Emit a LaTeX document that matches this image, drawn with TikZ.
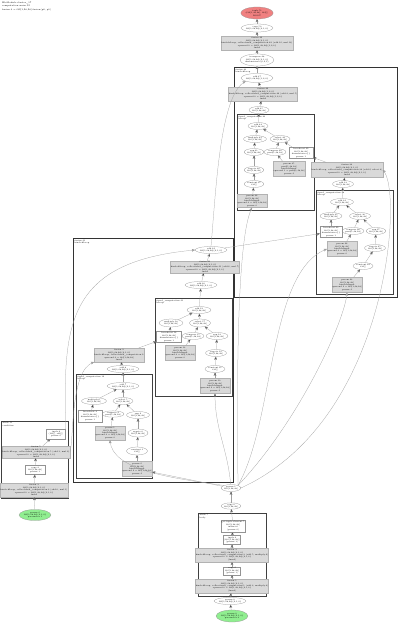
\documentclass[tikz,border=0pt]{standalone}
\usetikzlibrary{arrows,shapes.geometric}
\definecolor{rootred}{RGB}{240,128,128}
\definecolor{paramgreen}{RGB}{144,238,144}
\newcommand{\tinyfont}{\fontsize{2}{2.45}\selectfont}
\tikzset{
  op/.style={ellipse,draw=gray!85,line width=0.25pt,inner sep=0.1pt,align=center,font=\tinyfont},
  fused/.style={rectangle,draw=gray!60,fill=gray!30,line width=0.25pt,inner sep=0.3pt,align=center,font=\tinyfont},
  tup/.style={rectangle,draw=gray!85,fill=white,line width=0.25pt,inner sep=0.3pt,align=center,font=\tinyfont},
  rootop/.style={op,fill=rootred},
  paramop/.style={op,fill=paramgreen},
  cluster/.style={draw=black!75,line width=0.7pt},
  bigcluster/.style={draw=black!80,line width=1pt},
  clabel/.style={anchor=north west,inner sep=0.4pt,align=left,font=\tinyfont},
  flow/.style={draw=gray!75,line width=0.25pt}
}
\begin{document}
\begin{tikzpicture}[x=1pt,y=-1pt,>=stealth']
\useasboundingbox (0,0) rectangle (400,624);

% header text
\node[clabel,font=\fontsize{2.2}{3.2}\selectfont] (hdr) at (1.5,1.5) {HloModule cluster\_17\\computation main.52\\fusion.3 = f32[1,28,28] fusion(p0, p1)};

% clusters
\draw[bigcluster] (234,67) rectangle (397,297);
\node[clabel] (labA) at (235,68) {fusion.40\\kind=kLoop};
\draw[cluster] (237,114) rectangle (314,210);
\node[clabel] (labB) at (238,115) {fused\_computation.40\\kLoop};
\draw[cluster] (316,190) rectangle (393,294);
\node[clabel] (labC) at (317,191) {fused\_computation.38\\kLoop};
\draw[bigcluster] (73,238) rectangle (233,482);
\node[clabel] (labD) at (74,239) {fusion.21\\kind=kLoop};
\draw[cluster] (155,298) rectangle (232,396);
\node[clabel] (labE) at (156,299) {fused\_computation.21\\kLoop};
\draw[cluster] (76,374) rectangle (152,478);
\node[clabel] (labF) at (77,375) {fused\_computation.19\\kLoop};
\draw[cluster] (1,421) rectangle (68,498);
\node[clabel] (labG) at (2,422) {while.11\\condition};
\draw[cluster] (198,513) rectangle (266,596);
\node[clabel] (labH) at (199,514) {while.7\\body};

% main column
\node[rootop,minimum width=28pt,minimum height=12pt] (n1) at (257,13) {tuple.51\\(f32[1,28,28], f32[])\\ROOT};
\node[op,minimum width=28pt,minimum height=8pt] (n2) at (257,28) {copy.50\\f32[1,28,28]\{2,1,0\}};
\node[fused,minimum width=52pt,minimum height=14pt] (n3) at (257,43) {fusion.49\\f32[1,28,28]\{2,1,0\}\\kind=kLoop, calls=fused\_computation.49 (add.12, mul.13)\\operand 0 = f32[1,28,28]\{1,2,0\}\\fused};
\node[op,minimum width=33pt,minimum height=12pt] (n4) at (257,60) {transpose.48\\f32[1,28,28]\{2,1,0\}\\dimensions=\{0,2,1\}};

% cluster A
\node[op,minimum width=28pt,minimum height=9pt] (a1) at (257,78) {add.47\\f32[1,28,28]\{1,2,0\}};
\node[fused,minimum width=53pt,minimum height=14pt] (a2) at (263,94) {fusion.46\\f32[1,28,28]\{1,2,0\}\\kind=kLoop, calls=fused\_computation.46 (add.4, mul.5)\\operand 0 = f32[1,28,28]\{1,2,0\}\\fused};
\node[op,minimum width=20pt,minimum height=7pt] (a3) at (259,110) {add.45\\f32[1,28,28]};
\node[op,minimum width=20pt,minimum height=7pt] (b1) at (258,126) {add.44\\f32[1,28,28]};
\node[op,minimum width=23pt,minimum height=7pt] (b2) at (255,139) {multiply.43\\f32[1,28,28]};
\node[op,minimum width=20pt,minimum height=7pt] (b3) at (280,139) {select.42\\f32[1,28,28]};
\node[op,minimum width=18pt,minimum height=7pt] (b4) at (254,152) {exp.41\\f32[1,28,28]};
\node[op,minimum width=19pt,minimum height=7pt] (b5) at (275,152) {compare.40\\pred[1,28,28]};
\node[tup,minimum width=24pt,minimum height=11pt] (b6) at (301,153) {broadcast.39\\f32[1,28,28]\\dimensions=\{\}\\param 1};
\node[op,minimum width=18pt,minimum height=7pt] (b7) at (254,170) {negate.38\\f32[1,28,28]};
\node[op,minimum width=18pt,minimum height=7pt] (b8) at (254,184) {constant.37\\f32[]};
\node[fused,minimum width=29pt,minimum height=13pt] (b9) at (252,201) {param.36\\f32[1,28,28]\\kind=kInput\\operand 0 = f32[1,28,28]\\param 0};
\node[fused,minimum width=29pt,minimum height=15pt] (b10) at (289,169) {param.35\\pred[1,28,28]\\kind=kInput\\operand 1 = pred[1,28,28]\\param 2};
\node[fused,minimum width=62pt,minimum height=15pt] (a4) at (347,170) {fusion.34\\f32[1,28,28]\{2,1,0\}\\kind=kLoop, calls=fused\_computation.34 (add.2, select.3)\\operand 0 = f32[1,28,28]\{2,1,0\}\\fused};
\node[op,minimum width=21pt,minimum height=7pt] (a5) at (343,184) {add.33\\f32[1,28,28]};

% cluster C
\node[op,minimum width=23pt,minimum height=7pt] (c1) at (342,202) {add.32\\f32[1,28,28]};
\node[op,minimum width=22pt,minimum height=7pt] (c2) at (331,216) {multiply.31\\f32[1,28,28]};
\node[op,minimum width=21pt,minimum height=7pt] (c3) at (360,216) {select.30\\f32[1,28,28]};
\node[tup,minimum width=22pt,minimum height=11pt] (c4) at (331,232) {broadcast.29\\f32[1,28,28]\\dimensions=\{\}\\param 1};
\node[op,minimum width=20pt,minimum height=7pt] (c5) at (353,231) {compare.28\\pred[1,28,28]};
\node[op,minimum width=19pt,minimum height=7pt] (c6) at (376,231) {exp.27\\f32[1,28,28]};
\node[fused,minimum width=27pt,minimum height=15pt] (c7) at (342,249) {param.26\\f32[1,28,28]\\kind=kInput\\operand 0 = f32[1,28,28]\\param 0};
\node[op,minimum width=21pt,minimum height=7pt] (c8) at (375,248) {negate.25\\f32[1,28,28]};
\node[op,minimum width=20pt,minimum height=7pt] (c9) at (363,266) {constant.24\\f32[]};
\node[fused,minimum width=27pt,minimum height=15pt] (c10) at (347,285) {param.23\\f32[1,28,28]\\kind=kInput\\operand 2 = f32[1,28,28]\\param 2};

% cluster D
\node[op,minimum width=28pt,minimum height=7pt] (d1) at (211,250) {add.22\\f32[1,28,28]\{2,1,0\}};
\node[fused,minimum width=53pt,minimum height=12pt] (d2) at (205,267) {fusion.21\\f32[1,28,28]\{2,1,0\}\\kind=kLoop, calls=fused\_computation.21 (add.6, mul.7)\\operand 0 = f32[1,28,28]\{2,1,0\}\\fused};
\node[op,minimum width=28pt,minimum height=7pt] (d3) at (201,285) {add.20\\f32[1,28,28]\{2,1,0\}};
\node[op,minimum width=24pt,minimum height=7pt] (e1) at (199,310) {add.19\\f32[1,28,28]};
\node[op,minimum width=24pt,minimum height=8pt] (e2) at (171,323) {multiply.18\\f32[1,28,28]};
\node[op,minimum width=21pt,minimum height=8pt] (e3) at (200,323) {select.17\\f32[1,28,28]};
\node[tup,minimum width=25pt,minimum height=11pt] (e4) at (169,337) {broadcast.16\\f32[1,28,28]\\dimensions=\{\}\\param 1};
\node[op,minimum width=20pt,minimum height=7pt] (e5) at (193,336) {compare.15\\pred[1,28,28]};
\node[op,minimum width=22pt,minimum height=7pt] (e6) at (217,336) {exp.14\\f32[1,28,28]};
\node[fused,minimum width=27pt,minimum height=15pt] (e7) at (180,353) {param.13\\f32[1,28,28]\\kind=kInput\\operand 0 = f32[1,28,28]\\param 0};
\node[op,minimum width=21pt,minimum height=7pt] (e8) at (216,353) {negate.12\\f32[1,28,28]};
\node[op,minimum width=20pt,minimum height=7pt] (e9) at (215,369) {constant.11\\f32[]};
\node[fused,minimum width=28pt,minimum height=15pt] (e10) at (215,386) {param.10\\f32[1,28,28]\\kind=kInput\\operand 2 = f32[1,28,28]\\param 2};
\node[fused,minimum width=40pt,minimum height=14pt] (d4) at (119,355) {fusion.9\\f32[1,28,28]\{2,1,0\}\\kind=kLoop, calls=fused\_computation.9\\operand 0 = f32[1,28,28]\\fused};
\node[op,minimum width=27pt,minimum height=7pt] (d5) at (123,369) {add.8\\f32[1,28,28]\{2,1,0\}};

% cluster F
\node[op,minimum width=28pt,minimum height=7pt] (f1) at (123,386) {add.7\\f32[1,28,28]\{2,1,0\}};
\node[op,minimum width=25pt,minimum height=7pt] (f2) at (94,401) {multiply.6\\f32[1,28,28]};
\node[op,minimum width=20pt,minimum height=7pt] (f3) at (123,401) {select.5\\f32[1,28,28]};
\node[tup,minimum width=24pt,minimum height=12pt] (f4) at (90,416) {broadcast.4\\f32[1,28,28]\\dimensions=\{\}\\param 1};
\node[op,minimum width=20pt,minimum height=6pt] (f5) at (113,414) {compare.3\\pred[1,28,28]};
\node[op,minimum width=23pt,minimum height=7pt] (f6) at (138,415) {exp.2\\f32[1,28,28]};
\node[fused,minimum width=27pt,minimum height=14pt] (f7) at (110,433) {param.1\\f32[1,28,28]\\kind=kInput\\operand 0 = f32[1,28,28]\\param 0};
\node[op,minimum width=20pt,minimum height=8pt] (f8) at (138,433) {negate.0\\f32[1,28,28]};
\node[op,minimum width=21pt,minimum height=8pt] (f9) at (137,451) {constant.1\\f32[]};
\node[fused,minimum width=29pt,minimum height=15pt] (f10) at (137,469) {param.2\\f32[1,28,28]\\kind=kInput\\operand 2 = f32[1,28,28]\\param 2};

% cluster G
\node[tup,minimum width=19pt,minimum height=10pt] (g1) at (56,434) {tuple.6\\(f32[], s32[])\\param 0};
\node[fused,minimum width=64pt,minimum height=12pt] (g2) at (36,452) {fusion.5\\f32[1,28,28]\{2,1,0\}\\kind=kLoop, calls=fused\_computation.5 (add.1, mul.2)\\operand 0 = f32[1,28,28]\{2,1,0\}\\fused};
\node[tup,minimum width=20pt,minimum height=9pt] (g3) at (35,470) {copy.4\\f32[1,28,28]\\param 1};
\node[fused,minimum width=59pt,minimum height=14pt] (g4) at (34,490) {fusion.3\\f32[1,28,28]\{2,1,0\}\\kind=kLoop, calls=fused\_computation.3 (add.0, mul.1)\\operand 0 = f32[1,28,28]\{2,1,0\}\\fused};
\node[paramop,minimum width=26pt,minimum height=11pt] (g5) at (35,515) {param.2\\f32[1,28,28]\{2,1,0\}\\parameter 1};

% bottom column
\node[op,minimum width=16pt,minimum height=7pt] (m1) at (231,488) {param.1\\f32[1,28,28]};
\node[op,minimum width=18pt,minimum height=6pt] (m2) at (231,506) {copy.0\\f32[1,28,28]};
\node[tup,minimum width=23pt,minimum height=12pt] (h1) at (233,526) {get-tuple-element.5\\f32[1,28,28]\\index=0\\(param 0)};
\node[tup,minimum width=17pt,minimum height=9pt] (h2) at (232,540) {tuple.4\\(f32[1,28,28])\\(param 1)};
\node[fused,minimum width=61pt,minimum height=14pt] (h3) at (232,555) {fusion.3\\f32[1,28,28]\{2,1,0\}\\kind=kLoop, calls=fused\_computation.3 (add.5, multiply.6)\\operand 0 = f32[1,28,28]\{2,1,0\}\\(fused)};
\node[tup,minimum width=17pt,minimum height=8pt] (h4) at (232,571) {copy.2\\f32[1,28,28]\\(param 1)};
\node[fused,minimum width=61pt,minimum height=14pt] (h5) at (232,586) {fusion.1\\f32[1,28,28]\{2,1,0\}\\kind=kLoop, calls=fused\_computation.1 (add.3, multiply.4)\\operand 0 = f32[1,28,28]\{2,1,0\}\\(fused)};
\node[op,minimum width=24pt,minimum height=7pt] (m3) at (230,601) {param.0\\f32[1,28,28]\{2,1,0\}};
\node[paramop,minimum width=28pt,minimum height=12pt] (m4) at (232,616) {param.0\\f32[1,28,28]\{2,1,0\}\\parameter 0};

% straight edges
\path[flow,->] (n4) edge (n3) (n3) edge (n2) (n2) edge (n1)
  (a1) edge (n4) (a2) edge (a1) (a3) edge (a2) (b1) edge (a3)
  (b2) edge (b1) (b3) edge (b1) (b4) edge (b2) (b5) edge (b3) (b6) edge (b3)
  (b7) edge (b4) (b8) edge (b7) (b9) edge (b8) (b10) edge (b5)
  (a4) edge (b6) (a5) edge (a4) (c1) edge (a5)
  (c2) edge (c1) (c3) edge (c1) (c4) edge (c2) (c5) edge (c3) (c6) edge (c3)
  (c7) edge (c5) (c8) edge (c6) (c9) edge (c8) (c10) edge (c9)
  (d2) edge (d1) (d3) edge (d2) (e1) edge (d3)
  (e2) edge (e1) (e3) edge (e1) (e4) edge (e2) (e5) edge (e3) (e6) edge (e3)
  (e7) edge (e5) (e8) edge (e6) (e9) edge (e8) (e10) edge (e9)
  (d4) edge (e4) (d5) edge (d4) (f1) edge (d5)
  (f2) edge (f1) (f3) edge (f1) (f4) edge (f2) (f5) edge (f3) (f6) edge (f3)
  (f7) edge (f5) (f8) edge (f6) (f9) edge (f8) (f10) edge (f9)
  (d1) edge (c4)
  (g2) edge (g1) (g3) edge (g2) (g4) edge (g3) (g5) edge (g4)
  (m2) edge (m1) (h1) edge (m2) (h2) edge (h1) (h3) edge (h2)
  (h4) edge (h3) (h5) edge (h4) (m3) edge (h5) (m4) edge (m3)
  (m1) edge (f10) (m1) edge[out=95,in=-90] (e10);

% long curves
\draw[flow,->] (d1.north) .. controls (216,190) and (220,95) .. (a1.south west);
\draw[flow,->] (g1.north east) .. controls (64,330) and (62,262) .. (d1.west);
\draw[flow,->] (g2.east) .. controls (74,440) and (70,370) .. (d4.south west);
\draw[flow,->] (m1.north east) .. controls (237,400) and (236,240) .. (b9.south);
\draw[flow,->] (m1.north east) .. controls (275,420) and (268,272) .. (c7.west);
\draw[flow,->] (m1.north east) .. controls (300,420) and (345,320) .. (c10.south);
\draw[flow,->] (m1.east) .. controls (390,420) and (403,190) .. (a4.east);
\draw[flow,->] (m1.north west) .. controls (170,478) and (112,470) .. (f7.south);
\end{tikzpicture}
\end{document}
